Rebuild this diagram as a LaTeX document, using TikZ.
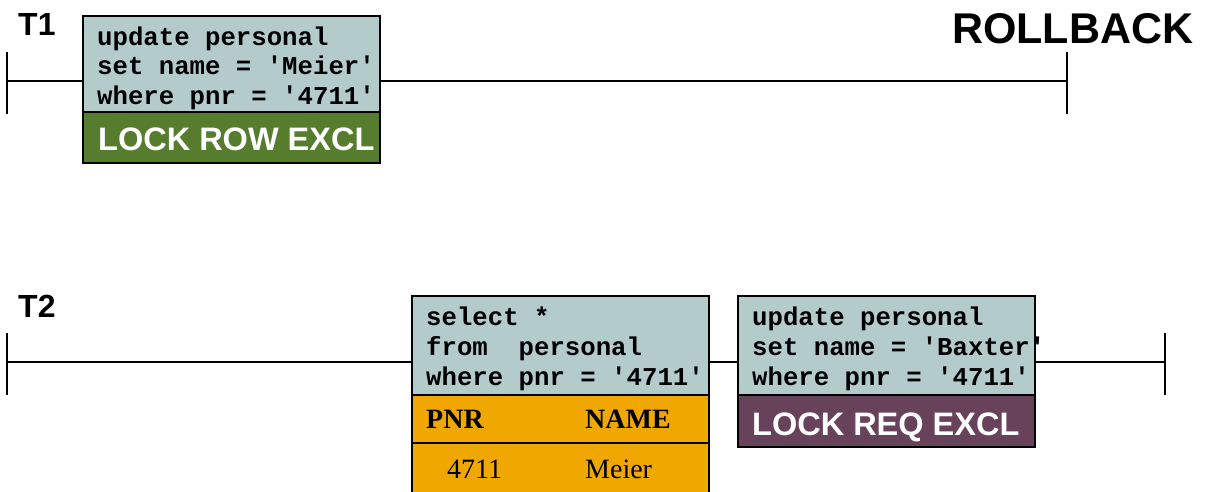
\documentclass[tikz,border=0pt]{standalone}
\usepackage{fontspec}
\setmainfont{Liberation Serif}
\newfontfamily\arialfont{Liberation Sans}
\newfontfamily\monofont{Liberation Mono}
\usetikzlibrary{calc}
\definecolor{sqlbg}{HTML}{B4CBCB}
\definecolor{lockgreen}{HTML}{567C2E}
\definecolor{lockpurple}{HTML}{67425A}
\definecolor{resorange}{HTML}{F0A800}
\newcommand\apos{\char39\relax}
\tikzset{
  box/.style={draw=black, line width=1.4pt, anchor=north west, inner sep=0pt, outer sep=0pt},
  sql/.style={anchor=base west, inner sep=0pt, font=\monofont\bfseries\fontsize{25.7}{29.5}\selectfont},
  lockt/.style={anchor=base west, inner sep=0pt, text=white, font=\arialfont\bfseries\fontsize{32.5}{36}\selectfont},
  tname/.style={anchor=base west, inner sep=0pt, font=\arialfont\bfseries\fontsize{32}{36}\selectfont},
  cell/.style={anchor=base west, inner sep=0pt, font=\fontsize{28}{32}\selectfont},
  timeline/.style={line width=1.4pt},
}
\begin{document}
\begin{tikzpicture}[x=1pt,y=-1pt]
\clip (0,0) rectangle (1205,491);
\fill[white] (0,0) rectangle (1205,491);

% ---------- transaction T1 ----------
\node[tname] (t1) at (18,35) {T1};
\node[tname, font=\arialfont\bfseries\fontsize{43}{46}\selectfont] (rb) at (952,43) {ROLLBACK};
\coordinate (t1l) at (7,81);
\coordinate (t1r) at (1067,81);
\draw[timeline] ($(t1l)+(0,-29)$) -- ($(t1l)+(0,33)$);
\draw[timeline] ($(t1r)+(0,-29)$) -- ($(t1r)+(0,33)$);

\node[box, fill=sqlbg, minimum width=297pt, minimum height=96pt] (q1) at (83,16) {};
\node[box, fill=lockgreen, minimum width=297pt, minimum height=51pt] (k1) at (83,112) {};
\node[sql] (q1a) at (97,45) {update personal};
\node[sql] (q1b) at (97,74.5) {set name = \apos Meier\apos};
\node[sql] (q1c) at (97,104) {where pnr = \apos 4711\apos};
\node[lockt] (k1t) at (98,150) {LOCK ROW EXCL};

\draw[timeline] (t1l) -- (t1l -| q1.west);
\draw[timeline] (t1l -| q1.east) -- (t1r);

% ---------- transaction T2 ----------
\node[tname] (t2) at (18,317) {T2};
\coordinate (t2l) at (7,362);
\coordinate (t2r) at (1165,362);
\draw[timeline] ($(t2l)+(0,-29)$) -- ($(t2l)+(0,33)$);
\draw[timeline] ($(t2r)+(0,-29)$) -- ($(t2r)+(0,33)$);

% select statement with its result table
\node[box, fill=sqlbg, minimum width=297pt, minimum height=99pt] (q2) at (412,296) {};
\node[box, fill=resorange, minimum width=297pt, minimum height=120pt] (res) at (412,395) {};
\draw[line width=1.4pt] ($(res.north west)+(0,48)$) -- ($(res.north east)+(0,48)$);
\node[sql] (q2a) at (426,325) {select *};
\node[sql] (q2b) at (426,355) {from\ \ personal};
\node[sql] (q2c) at (426,385) {where pnr = \apos 4711\apos};
\node[cell, font=\bfseries\fontsize{28}{32}\selectfont] (hpnr) at (426,428) {PNR};
\node[cell, font=\bfseries\fontsize{28}{32}\selectfont] (hname) at (585,428) {NAME};
\node[cell] (vpnr) at (447,478) {4711};
\node[cell] (vname) at (585,478) {Meier};

% update statement waiting for the lock
\node[box, fill=sqlbg, minimum width=297pt, minimum height=99pt] (q3) at (738,296) {};
\node[box, fill=lockpurple, minimum width=297pt, minimum height=52pt] (k3) at (738,395) {};
\node[sql] (q3a) at (752,325) {update personal};
\node[sql] (q3b) at (752,355) {set name = \apos Baxter\apos};
\node[sql] (q3c) at (752,385) {where pnr = \apos 4711\apos};
\node[lockt] (k3t) at (752,435) {LOCK REQ EXCL};

\draw[timeline] (t2l) -- (t2l -| q2.west);
\draw[timeline] (t2l -| q2.east) -- (t2l -| q3.west);
\draw[timeline] (t2l -| q3.east) -- (t2r);
\end{tikzpicture}
\end{document}
